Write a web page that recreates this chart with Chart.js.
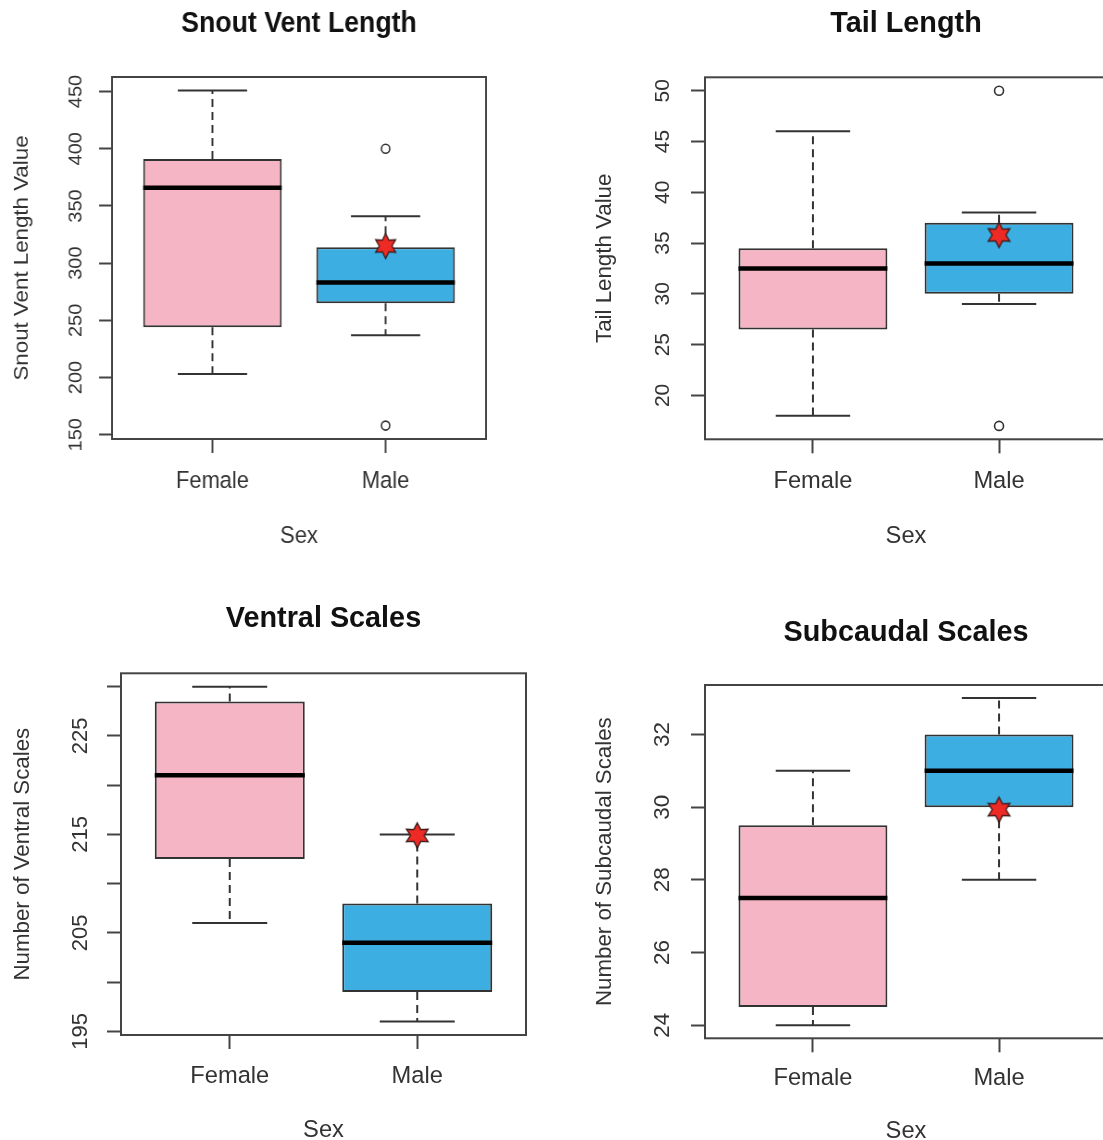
<!DOCTYPE html>
<html>
<head>
<meta charset="utf-8">
<script src="https://cdn.jsdelivr.net/npm/chart.js@4.4.1/dist/chart.umd.min.js"></script>
<style>
html,body{margin:0;padding:0;width:1103px;height:1140px;overflow:hidden;background:#fff;}
canvas{position:absolute;}
#c1{left:0;top:0;transform:scaleX(0.92574);transform-origin:0 0;}
#c2{left:560px;top:0;}
#c3{left:0;top:580px;}
#c4{left:560px;top:580px;}
</style>
</head>
<body>
<canvas id="c1" width="600" height="580"></canvas>
<canvas id="c2" width="560" height="580"></canvas>
<canvas id="c3" width="560" height="580"></canvas>
<canvas id="c4" width="560" height="580"></canvas>
<script>
// ---------------- data ----------------
const categories = ['Female', 'Male'];

// Snout Vent Length
const svlLower   = [203, 237];
const svlQ1      = [244, 265];
const svlMedian  = [366, 283];
const svlQ3      = [391, 314];
const svlUpper   = [451, 341];
const svlOutliers = [[], [400, 158]];
const svlMean    = [null, 315];
const svlTicks   = [150, 200, 250, 300, 350, 400, 450];
const svlTickLabels = ['150', '200', '250', '300', '350', '400', '450'];

// Tail Length
const tailLower  = [18, 29];
const tailQ1     = [26.5, 30];
const tailMedian = [32.5, 33];
const tailQ3     = [34.5, 37];
const tailUpper  = [46, 38];
const tailOutliers = [[], [50, 17]];
const tailMean   = [null, 35.8];
const tailTicks  = [20, 25, 30, 35, 40, 45, 50];
const tailTickLabels = ['20', '25', '30', '35', '40', '45', '50'];

// Ventral Scales
const ventLower  = [206, 196];
const ventQ1     = [212.5, 199];
const ventMedian = [221, 204];
const ventQ3     = [228.5, 208];
const ventUpper  = [230, 215];
const ventOutliers = [[], []];
const ventMean   = [null, 214.9];
const ventTicks  = [195, 200, 205, 210, 215, 220, 225, 230];
const ventTickLabels = ['195', '', '205', '', '215', '', '225', ''];

// Subcaudal Scales
const subLower   = [24, 28];
const subQ1      = [24.5, 30];
const subMedian  = [27.5, 31];
const subQ3      = [29.5, 32];
const subUpper   = [31, 33];
const subOutliers = [[], []];
const subMean    = [null, 29.93];
const subTicks   = [24, 26, 28, 30, 32];
const subTickLabels = ['24', '26', '28', '30', '32'];

// ---------------- style ----------------
const FONT = '"Liberation Sans", Arial, sans-serif';
const F = 23.7, LH = F * 1.2, YF = 22.3, YLH = YF * 1.2, TF = 28.8, TL = 14, LW = 2;
const TEXT = '#333', AXIS = '#444', BORDER = '#333';
const FILLS = ['#F6B5C4', '#3DAEE2'];
const BOX_W = 0.8, CAP_W = 0.4;

function makeStar(r) {
  const c = document.createElement('canvas');
  const s = Math.ceil(r * 2 + 4);
  c.width = s; c.height = s;
  const g = c.getContext('2d');
  g.translate(s / 2, s / 2);
  g.beginPath();
  for (let k = 0; k < 12; k++) {
    const a = -Math.PI / 2 + k * Math.PI / 6;
    const rr = (k % 2) ? r * 0.55 : r;
    g.lineTo(rr * Math.cos(a), rr * Math.sin(a));
  }
  g.closePath();
  g.fillStyle = '#EE2A24';
  g.fill();
  g.lineWidth = 1.3;
  g.strokeStyle = '#3a1a1a';
  g.stroke();
  return c;
}
const STAR = makeStar(12.5);

const rPlot = {
  id: 'rframe',
  afterDraw(chart, args, o) {
    const {ctx, chartArea: a} = chart;
    const ys = chart.scales.y;
    ctx.save();
    ctx.strokeStyle = AXIS;
    ctx.lineWidth = LW;
    ctx.strokeRect(a.left, a.top, a.right - a.left, a.bottom - a.top);
    ctx.fillStyle = '#111';
    ctx.font = 'bold ' + TF + 'px ' + FONT;
    ctx.textAlign = 'center';
    ctx.textBaseline = 'middle';
    ctx.fillText(o.title, (a.left + a.right) / 2, a.top - o.titleGap);
    ctx.fillStyle = TEXT;
    ctx.font = o.tickFont + 'px ' + FONT;
    o.ticks.forEach((v, k) => {
      const lab = o.labels[k];
      if (!lab) return;
      const py = ys.getPixelForValue(v);
      ctx.save();
      ctx.translate(a.left - o.tickOffset, py);
      ctx.rotate(-Math.PI / 2);
      ctx.fillText(lab, 0, 0);
      ctx.restore();
    });
    ctx.restore();
  }
};

function makePanel(id, d, g) {
  const box = [], whisk = [], caps = [], med = [], outl = [], mean = [];
  let lo = Infinity, hi = -Infinity;
  categories.forEach((c, i) => {
    const x = i + 1;
    box.push({x: x, y: [d.q1[i], d.q3[i]]});
    whisk.push({x: x, y: d.q3[i]}, {x: x, y: d.upper[i]}, {x: x, y: null},
               {x: x, y: d.q1[i]}, {x: x, y: d.lower[i]}, {x: x, y: null});
    caps.push({x: x - CAP_W / 2, y: d.upper[i]}, {x: x + CAP_W / 2, y: d.upper[i]}, {x: x, y: null},
              {x: x - CAP_W / 2, y: d.lower[i]}, {x: x + CAP_W / 2, y: d.lower[i]}, {x: x, y: null});
    med.push({x: x - BOX_W / 2, y: d.median[i]}, {x: x + BOX_W / 2, y: d.median[i]}, {x: x, y: null});
    d.outliers[i].forEach(v => outl.push({x: x, y: v}));
    if (d.mean[i] != null) mean.push({x: x, y: d.mean[i]});
    lo = Math.min(lo, d.lower[i], ...d.outliers[i]);
    hi = Math.max(hi, d.upper[i], ...d.outliers[i]);
  });
  const ext = (hi - lo) * 0.04;
  const n = categories.length;
  const xmin = 0.5 - n * 0.04, xmax = n + 0.5 + n * 0.04;

  new Chart(document.getElementById(id), {
    type: 'bar',
    data: {
      datasets: [
        {type: 'scatter', data: mean, order: 0, pointStyle: STAR, radius: 12, hoverRadius: 12},
        {type: 'scatter', data: outl, order: 1, pointStyle: 'circle', radius: 4.5,
         borderColor: BORDER, borderWidth: 1.6, backgroundColor: 'rgba(0,0,0,0)'},
        {type: 'line', data: med, order: 2, borderColor: '#000', borderWidth: 4.5,
         pointRadius: 0, spanGaps: false, borderCapStyle: 'butt'},
        {type: 'line', data: caps, order: 3, borderColor: BORDER, borderWidth: LW,
         pointRadius: 0, spanGaps: false},
        {type: 'line', data: whisk, order: 4, borderColor: BORDER, borderWidth: LW,
         borderDash: [8, 5], pointRadius: 0, spanGaps: false},
        {type: 'bar', data: box, order: 5, backgroundColor: FILLS, borderColor: BORDER,
         borderWidth: LW, borderSkipped: false, categoryPercentage: 1, barPercentage: BOX_W}
      ]
    },
    plugins: [rPlot],
    options: {
      responsive: false,
      animation: false,
      events: [],
      layout: {padding: {left: 0, top: g.T, right: g.w - g.R, bottom: 0}},
      plugins: {
        legend: {display: false},
        tooltip: {enabled: false},
        rframe: {title: d.title, titleGap: g.T - g.titleY, ticks: d.ticks, labels: d.tickLabels,
                 tickOffset: g.tickOffset, tickFont: g.tickFont}
      },
      scales: {
        x: {
          type: 'linear', min: xmin, max: xmax, offset: false,
          afterBuildTicks: s => { s.ticks = categories.map((c, i) => ({value: i + 1})); },
          afterFit: s => { s.height = g.h - g.B; },
          grid: {display: true, drawOnChartArea: false, drawTicks: true, tickLength: TL, tickWidth: LW, tickColor: AXIS, offset: false},
          border: {display: false},
          ticks: {font: {family: FONT, size: F}, color: TEXT, padding: g.xLabelY - g.B - TL - LH / 2,
                  maxRotation: 0, autoSkip: false, callback: (v, i) => categories[i]},
          title: {display: true, text: 'Sex', font: {family: FONT, size: F}, color: TEXT,
                  padding: {top: 0, bottom: g.h - g.sexY - LH / 2}}
        },
        y: {
          type: 'linear', min: lo - ext, max: hi + ext, beginAtZero: false,
          afterBuildTicks: s => { s.ticks = d.ticks.map(v => ({value: v})); },
          afterFit: s => { s.width = g.L; },
          grid: {display: true, drawOnChartArea: false, drawTicks: true, tickLength: TL, tickWidth: LW, tickColor: AXIS},
          border: {display: false},
          ticks: {display: false},
          title: {display: true, text: d.yTitle, font: {family: FONT, size: YF}, color: TEXT,
                  padding: {top: g.yTitleX - YLH / 2, bottom: 0}}
        }
      }
    }
  });
}

makePanel('c1', {title: 'Snout Vent Length', yTitle: 'Snout Vent Length Value', lower: svlLower, q1: svlQ1, median: svlMedian,
  q3: svlQ3, upper: svlUpper, outliers: svlOutliers, mean: svlMean, ticks: svlTicks, tickLabels: svlTickLabels},
  {w: 600, h: 580, L: 121, R: 525, T: 77, B: 439, yTitleX: 23.8, tickOffset: 39, tickFont: 20, xLabelY: 481, sexY: 536, titleY: 24});

makePanel('c2', {title: 'Tail Length', yTitle: 'Tail Length Value', lower: tailLower, q1: tailQ1, median: tailMedian,
  q3: tailQ3, upper: tailUpper, outliers: tailOutliers, mean: tailMean, ticks: tailTicks, tickLabels: tailTickLabels},
  {w: 560, h: 580, L: 145, R: 549, T: 77.3, B: 439.3, yTitleX: 45, tickOffset: 42, tickFont: 21, xLabelY: 481, sexY: 536, titleY: 24});

makePanel('c3', {title: 'Ventral Scales', yTitle: 'Number of Ventral Scales', lower: ventLower, q1: ventQ1, median: ventMedian,
  q3: ventQ3, upper: ventUpper, outliers: ventOutliers, mean: ventMean, ticks: ventTicks, tickLabels: ventTickLabels},
  {w: 560, h: 580, L: 121, R: 526, T: 93.3, B: 455, yTitleX: 23, tickOffset: 40, tickFont: 22, xLabelY: 496, sexY: 550, titleY: 39});

makePanel('c4', {title: 'Subcaudal Scales', yTitle: 'Number of Subcaudal Scales', lower: subLower, q1: subQ1, median: subMedian,
  q3: subQ3, upper: subUpper, outliers: subOutliers, mean: subMean, ticks: subTicks, tickLabels: subTickLabels},
  {w: 560, h: 580, L: 145, R: 549, T: 105, B: 458.3, yTitleX: 45, tickOffset: 42, tickFont: 22.5, xLabelY: 498, sexY: 551, titleY: 53});
</script>
</body>
</html>
